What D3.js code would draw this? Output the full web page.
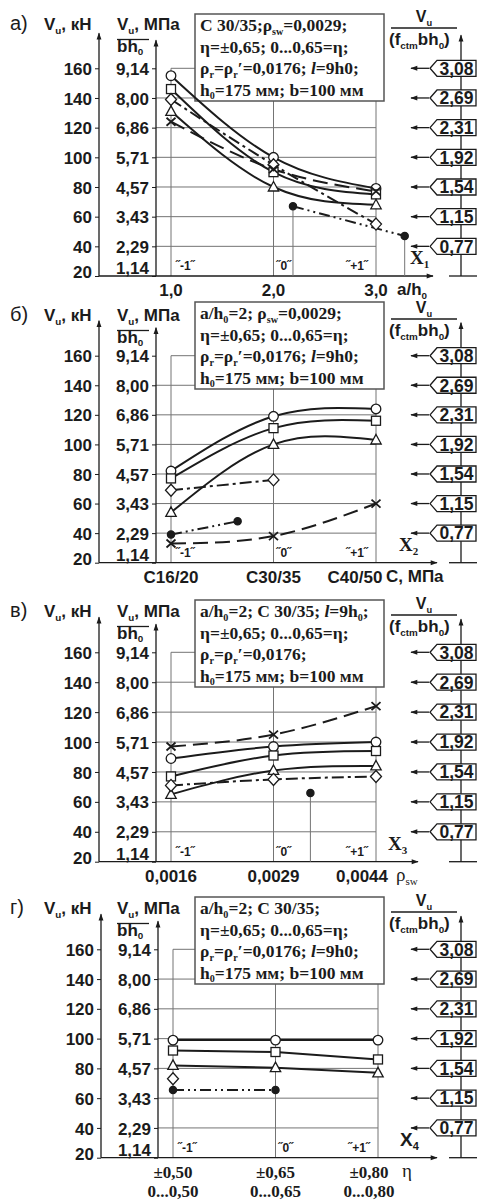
<!DOCTYPE html>
<html>
<head>
<meta charset="utf-8">
<script src="https://cdn.jsdelivr.net/npm/d3@7"></script>
<style>
  body { margin: 0; background: #fff; }
</style>
</head>
<body>
<div id="chart"></div>
<script>
// shared scales of all four panels
const kNTicks = [20, 40, 60, 80, 100, 120, 140, 160];
const mpaTicks = ["1,14", "2,29", "3,43", "4,57", "5,71", "6,86", "8,00", "9,14"];
const relValues = [40, 60, 80, 100, 120, 140, 160];
const relTicks = ["0,77", "1,15", "1,54", "1,92", "2,31", "2,69", "3,08"];
const codes = [-1, 0, 1];
const codeLabels = ["˝-1˝", "˝0˝", "˝+1˝"];

// а) influence of a/h0 (x in coded units: 1,0 -> -1, 2,0 -> 0, 3,0 -> +1)
const aTicks = ["1,0", "2,0", "3,0"];
const aCircle = [155, 100, 79];
const aSquare = [146, 90, 75];
const aTriangle = [131, 80, 68];
const aDiamond = [139, 95, 55];
const aCross = [124, 92, 77];
const aDotX = [0.19, 1.28];
const aDot = [67, 47];

// б) influence of concrete class
const bTicks = ["C16/20", "C30/35", "C40/50"];
const bCircle = [82, 119, 124];
const bSquare = [77, 111, 116];
const bTriangle = [54, 100, 103];
const bDiamondX = [-1, 0];
const bDiamond = [69, 76];
const bCross = [33, 38, 60];
const bDotX = [-1, -0.35];
const bDot = [39, 48];

// в) influence of rho_sw
const cTicks = ["0,0016", "0,0029", "0,0044"];
const cCross = [97, 105, 124];
const cCircle = [89, 97, 100];
const cSquare = [77, 91, 94];
const cTriangle = [65, 81, 84];
const cDiamond = [71, 75, 77];
const cDotX = [0.36];
const cDot = [66];

// г) influence of eta
const dTicks = ["±0,50", "±0,65", "±0,80"];
const dTicks2 = ["0...0,50", "0...0,65", "0...0,80"];
const dCircle = [99, 99, 99];
const dSquare = [92, 91, 86];
const dTriangle = [82, 80.5, 77];
const dDiamondX = [-1];
const dDiamond = [73];
const dDotX = [-1, 0];
const dDot = [65.5, 65.5];

const boxA = ["C 30/35;ρ_{sw}=0,0029;", "η=±0,65; 0...0,65=η;", "ρ_{r}=ρ_{r}′=0,0176; ~l~=9h0;", "h_{0}=175 мм; b=100 мм"];
const boxB = ["a/h_{0}=2; ρ_{sw}=0,0029;", "η=±0,65; 0...0,65=η;", "ρ_{r}=ρ_{r}′=0,0176; ~l~=9h0;", "h_{0}=175 мм; b=100 мм"];
const boxC = ["a/h_{0}=2; C 30/35; ~l~=9h_{0};", "η=±0,65; 0...0,65=η;", "ρ_{r}=ρ_{r}′=0,0176;", "h_{0}=175 мм; b=100 мм"];
const boxD = ["a/h_{0}=2; C 30/35;", "η=±0,65; 0...0,65=η;", "ρ_{r}=ρ_{r}′=0,0176; ~l~=9h0;", "h_{0}=175 мм; b=100 мм"];

const zip = (xs, ys) => ys.map((v, i) => [xs[i], v]);
const DASH = "12,4,3,4", LONG = "15,7", DDOT = "11,4,2,4,2,4";

const panels = [
  { tag: "а)", ticks: aTicks, xName: "a/h_{0}", xSerif: false, box: boxA, xi: "1",
    lay: { top: 68.3, bot: 276, head: 30, boxTop: 14, dx: 0, xiX: 410, arrowEnd: 433,
           lastShift: 0, nameX: 397 },
    series: [
      { pts: zip(codes, aCircle), m: "circle" },
      { pts: zip(codes, aSquare), m: "square" },
      { pts: zip(codes, aTriangle), m: "triangle" },
      { pts: zip(codes, aDiamond), m: "diamond", dash: DASH },
      { pts: zip(codes, aCross), m: "cross", dash: LONG },
      { pts: zip(aDotX, aDot), m: "dot", dash: DDOT, drop: true, linear: true }
    ] },
  { tag: "б)", ticks: bTicks, xName: "C, МПа", xSerif: false, box: boxB, xi: "2",
    lay: { top: 355.7, bot: 562.7, head: 321, boxTop: 302, dx: 0, xiX: 399, arrowEnd: 437,
           lastShift: -21, nameX: 386 },
    series: [
      { pts: zip(codes, bCircle), m: "circle" },
      { pts: zip(codes, bSquare), m: "square" },
      { pts: zip(codes, bTriangle), m: "triangle" },
      { pts: zip(bDiamondX, bDiamond), m: "diamond", dash: DASH, linear: true },
      { pts: zip(codes, bCross), m: "cross", dash: LONG },
      { pts: zip(bDotX, bDot), m: "dot", dash: DDOT, linear: true }
    ] },
  { tag: "в)", ticks: cTicks, xName: "ρ_{sw}", xSerif: true, box: boxC, xi: "3",
    lay: { top: 652.3, bot: 861.7, head: 617, boxTop: 600, dx: 0, xiX: 388, arrowEnd: 418,
           lastShift: -14, nameX: 396 },
    series: [
      { pts: zip(codes, cCross), m: "cross", dash: LONG },
      { pts: zip(codes, cCircle), m: "circle" },
      { pts: zip(codes, cSquare), m: "square" },
      { pts: zip(codes, cTriangle), m: "triangle" },
      { pts: zip(codes, cDiamond), m: "diamond", dash: DASH },
      { pts: zip(cDotX, cDot), m: "dot", drop: true }
    ] },
  { tag: "г)", ticks: dTicks, ticks2: dTicks2, xName: "η", xSerif: true, box: boxD, xi: "4",
    lay: { top: 949.3, bot: 1157.7, head: 914, boxTop: 897, dx: 2, xiX: 400, arrowEnd: 437,
           lastShift: -9, nameX: 402 },
    series: [
      { pts: zip(codes, dCircle), m: "circle", linear: true },
      { pts: zip(codes, dSquare), m: "square", linear: true },
      { pts: zip(codes, dTriangle), m: "triangle", linear: true },
      { pts: zip(dDiamondX, dDiamond), m: "diamond" },
      { pts: zip(dDotX, dDot), m: "dot", dash: DDOT, linear: true }
    ] }
];

const width = 477, height = 1203;
const INK = "#1b1b1b", GRID = "#747474";
const SANS = "'Liberation Sans', Arial, sans-serif";
const SERIF = "'Liberation Serif', 'Times New Roman', serif";

const svg = d3.select("#chart").append("svg")
  .attr("width", width).attr("height", height)
  .style("display", "block");

// arrow head used on all axes
svg.append("defs").append("marker")
  .attr("id", "arr").attr("viewBox", "0 0 10 10")
  .attr("refX", 9).attr("refY", 5)
  .attr("markerWidth", 9).attr("markerHeight", 7)
  .attr("markerUnits", "userSpaceOnUse")
  .attr("orient", "auto")
  .append("path").attr("d", "M0,1.5 L10,5 L0,8.5 Z").attr("fill", INK);

// text with _{sub} and ~italic~ markup
function rich(t, str, size) {
  const parts = str.split(/(_\{[^}]*\}|~[^~]*~)/).filter(s => s);
  let down = false;
  parts.forEach(p => {
    const ts = t.append("tspan");
    if (p.startsWith("_{")) {
      ts.text(p.slice(2, -1)).attr("font-size", size * 0.58).attr("dy", size * 0.22);
      down = true;
    } else {
      if (down) { ts.attr("dy", -size * 0.22); down = false; }
      if (p.startsWith("~")) ts.attr("font-style", "italic").text(p.slice(1, -1));
      else ts.text(p);
    }
  });
  return t;
}

function marker(g, type, x, y) {
  const s = g.append("g").attr("transform", `translate(${x},${y})`)
    .attr("stroke", INK).attr("stroke-width", 1.3).attr("fill", "#fff");
  if (type === "circle") s.append("circle").attr("r", 4.8);
  if (type === "square") s.append("rect").attr("x", -4.5).attr("y", -4.5).attr("width", 9).attr("height", 9);
  if (type === "triangle") s.append("path").attr("d", "M0,-5.5 L5.2,4 L-5.2,4 Z");
  if (type === "diamond") s.append("path").attr("d", "M0,-6 L5.5,0 L0,6 L-5.5,0 Z");
  if (type === "cross") s.append("path").attr("d", "M-4.5,-4 L4.5,4 M-4.5,4 L4.5,-4").attr("stroke-width", 1.8);
  if (type === "dot") s.append("circle").attr("r", 3.6).attr("fill", INK);
}

panels.forEach(p => {
  const L = p.lay;
  const g = svg.append("g");
  const x = d3.scaleLinear().domain([-1, 1]).range([171 + L.dx, 376 + L.dx]);
  const y = d3.scaleLinear().domain([20, 160]).range([L.bot, L.top]);
  const kX = 99 + L.dx, mX = 156 + L.dx, rX = 461;

  // grid
  const grid = g.append("g").attr("stroke", GRID).attr("stroke-width", 1);
  kNTicks.slice(1).forEach(v => {
    grid.append("line")
      .attr("x1", v === 160 ? x(-1) : mX).attr("x2", x(1))
      .attr("y1", y(v)).attr("y2", y(v));
  });
  codes.forEach(c => {
    grid.append("line").attr("x1", x(c)).attr("x2", x(c)).attr("y1", y(20)).attr("y2", y(160));
  });

  // info box
  const box = g.append("g");
  box.append("rect").attr("x", 195).attr("y", L.boxTop).attr("width", 189).attr("height", 87)
    .attr("fill", "#fff").attr("stroke", "#555").attr("stroke-width", 1.5);
  p.box.forEach((line, i) => {
    rich(box.append("text").attr("x", 200).attr("y", L.boxTop + 17 + i * 21.5)
      .attr("font-family", SERIF).attr("font-weight", "bold").attr("font-size", 17.5)
      .attr("fill", INK), line, 17.5);
  });

  // left axes
  const kAxis = g.append("g").attr("transform", `translate(${kX},0)`)
    .call(d3.axisLeft(y).tickValues(kNTicks).tickSize(4).tickPadding(3));
  const mAxis = g.append("g").attr("transform", `translate(${mX},0)`)
    .call(d3.axisLeft(y).tickValues(kNTicks).tickSize(4).tickPadding(3)
      .tickFormat((d, i) => mpaTicks[i]));
  [kAxis, mAxis].forEach((a, j) => {
    a.select(".domain").remove();
    a.selectAll("line").attr("stroke", INK);
    a.selectAll("text").attr("font-family", SANS).attr("font-weight", "bold")
      .attr("font-size", 17).attr("fill", INK)
      .attr("dy", d => d === 20 ? (j === 0 ? "0.1em" : "-0.15em") : "0.36em");
  });
  g.append("line").attr("x1", kX).attr("x2", kX).attr("y1", y(20)).attr("y2", L.top - 35)
    .attr("stroke", INK).attr("stroke-width", 1.3).attr("marker-end", "url(#arr)");
  g.append("line").attr("x1", mX).attr("x2", mX).attr("y1", y(20)).attr("y2", L.top - 28)
    .attr("stroke", INK).attr("stroke-width", 1.3).attr("marker-end", "url(#arr)");

  // x axis
  g.append("line").attr("x1", kX).attr("x2", L.arrowEnd).attr("y1", y(20)).attr("y2", y(20))
    .attr("stroke", INK).attr("stroke-width", 1.3).attr("marker-end", "url(#arr)");
  const tickX = i => x(codes[i]) + (i === 2 ? L.lastShift : 0);
  g.selectAll(".xt").data(p.ticks).join("text")
    .attr("x", (d, i) => tickX(i)).attr("y", y(20) + 20)
    .attr("text-anchor", "middle")
    .attr("font-family", p.ticks2 ? SERIF : SANS).attr("font-weight", "bold")
    .attr("font-size", 17).attr("fill", INK)
    .text(d => d);
  if (p.ticks2) {
    g.selectAll(".xt2").data(p.ticks2).join("text")
      .attr("x", (d, i) => tickX(i)).attr("y", y(20) + 39)
      .attr("text-anchor", "middle")
      .attr("font-family", SERIF).attr("font-weight", "bold")
      .attr("font-size", 17).attr("fill", INK).text(d => d);
  }
  rich(g.append("text").attr("x", L.nameX).attr("y", y(20) + 19)
    .attr("font-family", p.xSerif ? SERIF : SANS).attr("font-weight", p.xSerif ? "normal" : "bold")
    .attr("font-size", p.xSerif ? 19 : 17).attr("fill", INK), p.xName, p.xSerif ? 19 : 17);

  // coded levels
  g.selectAll(".cl").data(codeLabels).join("text")
    .attr("x", (d, i) => i === 2 ? x(codes[i]) - 8 : x(codes[i]) + (i === 0 ? 5 : 3))
    .attr("y", y(20) - 6)
    .attr("text-anchor", (d, i) => i === 2 ? "end" : "start")
    .attr("font-family", SANS).attr("font-weight", "bold").attr("font-size", 12)
    .attr("fill", INK).text(d => d);
  const xi = g.append("text").attr("x", L.xiX).attr("y", y(20) - 12)
    .attr("font-family", p.tag === "г)" ? SANS : SERIF).attr("font-weight", "bold")
    .attr("font-size", 19).attr("fill", INK);
  rich(xi, "X_{" + p.xi + "}", 19);

  // right axis with relative values
  g.append("line").attr("x1", rX).attr("x2", rX).attr("y1", y(20)).attr("y2", L.top - 33)
    .attr("stroke", INK).attr("stroke-width", 1.3).attr("marker-end", "url(#arr)");
  g.append("line").attr("x1", 449).attr("x2", 477).attr("y1", y(20)).attr("y2", y(20))
    .attr("stroke", INK).attr("stroke-width", 1.3);
  relValues.forEach((v, i) => {
    const yy = y(v);
    g.append("line").attr("x1", 429).attr("x2", 411).attr("y1", yy).attr("y2", yy)
      .attr("stroke", INK).attr("stroke-width", 1.3).attr("marker-end", "url(#arr)");
    g.append("path")
      .attr("d", `M430,${yy} L437,${yy - 8} L476,${yy - 8} L476,${yy + 8} L437,${yy + 8} Z`)
      .attr("fill", "#fff").attr("stroke", INK).attr("stroke-width", 1.3);
    g.append("text").attr("x", 456.5).attr("y", yy + 6.3).attr("text-anchor", "middle")
      .attr("font-family", SANS).attr("font-weight", "bold").attr("font-size", 17.5)
      .attr("fill", INK).text(relTicks[i]);
  });

  // headers
  g.append("text").attr("x", 10).attr("y", L.head).attr("font-family", SANS)
    .attr("font-size", 20).attr("fill", INK).text(p.tag);
  rich(g.append("text").attr("x", 44).attr("y", L.head).attr("font-family", SANS)
    .attr("font-weight", "bold").attr("font-size", 17).attr("fill", INK), "V_{u}, кН", 17);
  rich(g.append("text").attr("x", 117).attr("y", L.head).attr("font-family", SANS)
    .attr("font-weight", "bold").attr("font-size", 17).attr("fill", INK), "V_{u}, МПа", 17);
  g.append("line").attr("x1", 117).attr("x2", 149).attr("y1", L.head + 9.5).attr("y2", L.head + 9.5)
    .attr("stroke", INK).attr("stroke-width", 1.3);
  rich(g.append("text").attr("x", 117).attr("y", L.head + 21.5).attr("font-family", SANS)
    .attr("font-weight", "bold").attr("font-size", 17).attr("fill", INK), "bh_{0}", 17);
  rich(g.append("text").attr("x", 424).attr("y", L.head - 8).attr("text-anchor", "middle")
    .attr("font-family", SANS).attr("font-weight", "bold").attr("font-size", 16).attr("fill", INK), "V_{u}", 16);
  g.append("line").attr("x1", 391).attr("x2", 457).attr("y1", L.head - 2).attr("y2", L.head - 2)
    .attr("stroke", INK).attr("stroke-width", 1.3);
  rich(g.append("text").attr("x", 389).attr("y", L.head + 15)
    .attr("font-family", SANS).attr("font-weight", "bold").attr("font-size", 17).attr("fill", INK),
    "(f_{ctm}bh_{0})", 17);

  // data lines
  const lineSmooth = d3.line().x(d => x(d[0])).y(d => y(d[1])).curve(d3.curveNatural);
  const lineStraight = d3.line().x(d => x(d[0])).y(d => y(d[1]));
  const dataG = g.append("g");
  p.series.forEach(s => {
    if (s.drop) {
      s.pts.forEach(d => {
        dataG.append("line").attr("x1", x(d[0])).attr("x2", x(d[0]))
          .attr("y1", y(d[1])).attr("y2", y(20)).attr("stroke", GRID).attr("stroke-width", 1);
      });
    }
    if (s.pts.length > 1 && (s.m !== "dot" || s.dash)) {
      dataG.append("path").datum(s.pts)
        .attr("d", s.linear || s.pts.length < 3 ? lineStraight : lineSmooth)
        .attr("fill", "none").attr("stroke", INK).attr("stroke-width", 2)
        .attr("stroke-dasharray", s.dash || null);
    }
  });
  p.series.forEach(s => s.pts.forEach(d => marker(dataG, s.m, x(d[0]), y(d[1]))));
});
</script>
</body>
</html>
